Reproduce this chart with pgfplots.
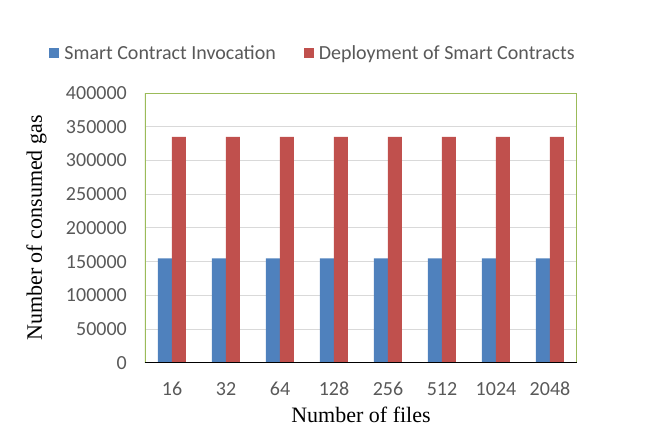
\documentclass[border=0pt]{standalone}
\usepackage{pgfplots}
\pgfplotsset{compat=1.18}
\usepackage{fontspec}
\setmainfont{Liberation Serif}
\newfontfamily\carlito{Carlito}
\definecolor{cblue}{HTML}{4F81BD}
\definecolor{cred}{HTML}{C0504D}
\definecolor{cgreen}{HTML}{9BBB59}
\definecolor{cgrid}{HTML}{D9D9D9}
\definecolor{ctick}{HTML}{595959}
\begin{document}
\begin{tikzpicture}[x=1pt,y=1pt]
\useasboundingbox (0,0) rectangle (659,444);
\begin{axis}[
  at={(145pt,81pt)}, anchor=south west,
  scale only axis, width=432pt, height=270pt,
  ymin=0, ymax=400000,
  xmin=-0.5, xmax=7.5,
  ytick={0,50000,...,400000},
  xtick=data,
  xticklabels={16,32,64,128,256,512,1024,2048},
  scaled y ticks=false,
  /pgf/number format/assume math mode=true,
  yticklabel={\pgfmathprintnumber[fixed,1000 sep={}]{\tick}},
  tick label style={font=\carlito\fontsize{20}{20}\selectfont, text=ctick, inner sep=0pt},
  yticklabel style={anchor=east, xshift=-18pt},
  xticklabel style={anchor=center, yshift=-26pt},
  major tick length=0pt,
  ymajorgrids, grid style={cgrid, line width=1pt},
  axis line style={draw=none},
  ybar=0pt, bar width=14pt,
  xlabel={Number of files}, ylabel={Number of consumed gas},
  label style={font=\fontsize{22}{22}\selectfont},
  xlabel style={at={(axis description cs:0.5,0)}, anchor=center, yshift=-52pt},
  ylabel style={at={(axis description cs:-0.251,0.5)}, anchor=center},
  legend style={at={(0.5,1)}, anchor=center, yshift=40pt, xshift=-48pt, draw=none, legend columns=2,
    font=\carlito\fontsize{20}{20}\selectfont, text=ctick,
    /tikz/every odd column/.append style={column sep=3pt},
    /tikz/every even column/.append style={column sep=26pt}},
  legend image code/.code={\fill[#1] (0pt,-5pt) rectangle (10pt,5pt);},
]
\addplot[fill=cblue, draw=none] coordinates {(0,155000)(1,155000)(2,155000)(3,155000)(4,155000)(5,155000)(6,155000)(7,155000)};
\addplot[fill=cred, draw=none] coordinates {(0,335000)(1,335000)(2,335000)(3,335000)(4,335000)(5,335000)(6,335000)(7,335000)};
\legend{Smart Contract Invocation, Deployment of Smart Contracts}
\draw[cgreen, line width=1.2pt] (rel axis cs:0,0) -- (rel axis cs:0,1) -- (rel axis cs:1,1) -- (rel axis cs:1,0);
\draw[black, line width=1.5pt] (rel axis cs:0,0) -- (rel axis cs:1,0);
\end{axis}
\end{tikzpicture}
\end{document}
